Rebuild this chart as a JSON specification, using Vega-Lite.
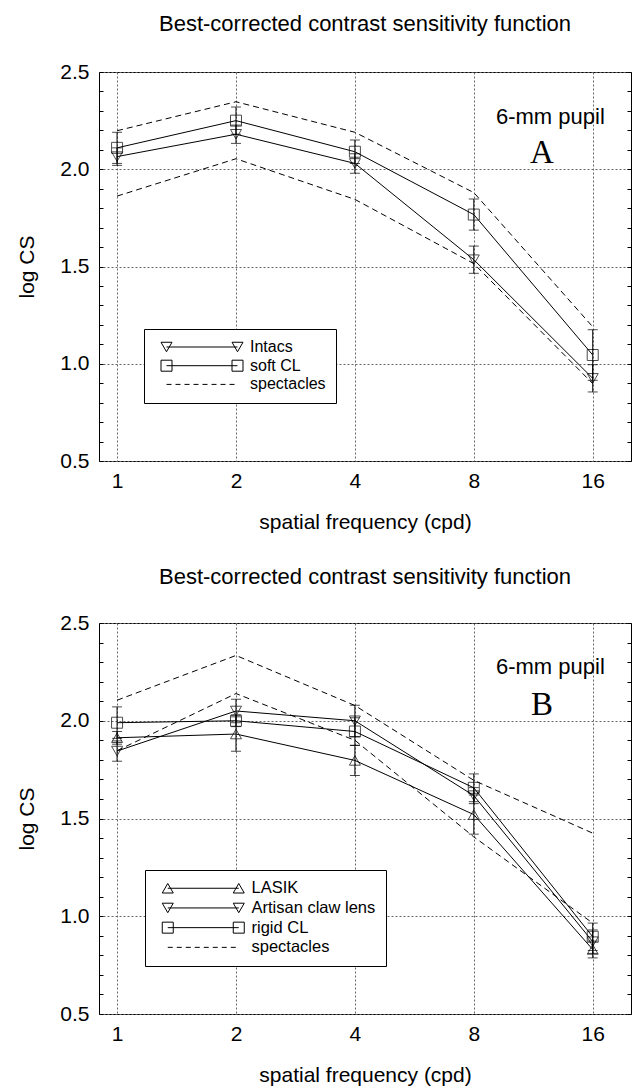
{
  "$schema": "https://vega.github.io/schema/vega-lite/v6.json",
  "background": "white",
  "padding": {"left": 16, "top": 12, "right": 0, "bottom": 0},
  "spacing": 32,
  "config": {
    "font": "Liberation Sans",
    "view": {"stroke": "black", "strokeWidth": 1, "fill": "white"},
    "axis": {"labelFont": "Liberation Sans", "titleFont": "Liberation Sans", "labelColor": "black", "titleColor": "black", "titleFontWeight": "normal", "labelFontSize": 21, "titleFontSize": 21},
    "title": {"font": "Liberation Sans", "fontSize": 22, "fontWeight": "normal", "color": "black"}
  },
  "datasets": {
    "d": [
      {"p": "A", "s": "Intacs", "f": 1, "v": 2.065, "lo": 2.02, "hi": 2.11},
      {"p": "A", "s": "Intacs", "f": 2, "v": 2.18, "lo": 2.133, "hi": 2.227},
      {"p": "A", "s": "Intacs", "f": 4, "v": 2.03, "lo": 1.98, "hi": 2.08},
      {"p": "A", "s": "Intacs", "f": 8, "v": 1.535, "lo": 1.465, "hi": 1.605},
      {"p": "A", "s": "Intacs", "f": 16, "v": 0.925, "lo": 0.855, "hi": 0.995},
      {"p": "A", "s": "soft CL", "f": 1, "v": 2.11, "lo": 2.03, "hi": 2.19},
      {"p": "A", "s": "soft CL", "f": 2, "v": 2.25, "lo": 2.18, "hi": 2.32},
      {"p": "A", "s": "soft CL", "f": 4, "v": 2.09, "lo": 2.03, "hi": 2.15},
      {"p": "A", "s": "soft CL", "f": 8, "v": 1.767, "lo": 1.687, "hi": 1.847},
      {"p": "A", "s": "soft CL", "f": 16, "v": 1.045, "lo": 0.915, "hi": 1.175},
      {"p": "A", "s": "spectacles", "b": "upper", "f": 1, "v": 2.198},
      {"p": "A", "s": "spectacles", "b": "upper", "f": 2, "v": 2.347},
      {"p": "A", "s": "spectacles", "b": "upper", "f": 4, "v": 2.19},
      {"p": "A", "s": "spectacles", "b": "upper", "f": 8, "v": 1.88},
      {"p": "A", "s": "spectacles", "b": "upper", "f": 16, "v": 1.19},
      {"p": "A", "s": "spectacles", "b": "lower", "f": 1, "v": 1.862},
      {"p": "A", "s": "spectacles", "b": "lower", "f": 2, "v": 2.054},
      {"p": "A", "s": "spectacles", "b": "lower", "f": 4, "v": 1.845},
      {"p": "A", "s": "spectacles", "b": "lower", "f": 8, "v": 1.515},
      {"p": "A", "s": "spectacles", "b": "lower", "f": 16, "v": 0.898},
      {"p": "B", "s": "LASIK", "f": 1, "v": 1.913, "lo": 1.88, "hi": 1.945},
      {"p": "B", "s": "LASIK", "f": 2, "v": 1.932, "lo": 1.844, "hi": 2.02},
      {"p": "B", "s": "LASIK", "f": 4, "v": 1.797, "lo": 1.72, "hi": 1.874},
      {"p": "B", "s": "LASIK", "f": 8, "v": 1.52, "lo": 1.42, "hi": 1.62},
      {"p": "B", "s": "LASIK", "f": 16, "v": 0.83, "lo": 0.787, "hi": 0.873},
      {"p": "B", "s": "Artisan claw lens", "f": 1, "v": 1.845, "lo": 1.793, "hi": 1.897},
      {"p": "B", "s": "Artisan claw lens", "f": 2, "v": 2.05, "lo": 1.99, "hi": 2.11},
      {"p": "B", "s": "Artisan claw lens", "f": 4, "v": 2.0, "lo": 1.92, "hi": 2.079},
      {"p": "B", "s": "Artisan claw lens", "f": 8, "v": 1.617, "lo": 1.576, "hi": 1.658},
      {"p": "B", "s": "Artisan claw lens", "f": 16, "v": 0.87, "lo": 0.81, "hi": 0.93},
      {"p": "B", "s": "rigid CL", "f": 1, "v": 1.99, "lo": 1.91, "hi": 2.071},
      {"p": "B", "s": "rigid CL", "f": 2, "v": 2.0, "lo": 1.97, "hi": 2.03},
      {"p": "B", "s": "rigid CL", "f": 4, "v": 1.945, "lo": 1.875, "hi": 2.015},
      {"p": "B", "s": "rigid CL", "f": 8, "v": 1.657, "lo": 1.586, "hi": 1.728},
      {"p": "B", "s": "rigid CL", "f": 16, "v": 0.895, "lo": 0.825, "hi": 0.965},
      {"p": "B", "s": "spectacles", "b": "upper", "f": 1, "v": 2.105},
      {"p": "B", "s": "spectacles", "b": "upper", "f": 2, "v": 2.334},
      {"p": "B", "s": "spectacles", "b": "upper", "f": 4, "v": 2.078},
      {"p": "B", "s": "spectacles", "b": "upper", "f": 8, "v": 1.695},
      {"p": "B", "s": "spectacles", "b": "upper", "f": 16, "v": 1.425},
      {"p": "B", "s": "spectacles", "b": "lower", "f": 1, "v": 1.847},
      {"p": "B", "s": "spectacles", "b": "lower", "f": 2, "v": 2.139},
      {"p": "B", "s": "spectacles", "b": "lower", "f": 4, "v": 1.9},
      {"p": "B", "s": "spectacles", "b": "lower", "f": 8, "v": 1.406},
      {"p": "B", "s": "spectacles", "b": "lower", "f": 16, "v": 0.965}
    ]
  },
  "resolve": {"scale": {"shape": "independent"}},
  "vconcat": [
    {
      "width": 532,
      "height": 389,
      "title": {"text": "Best-corrected contrast sensitivity function", "anchor": "middle", "offset": 25},
      "resolve": {"axis": {"x": "independent", "y": "independent"}},
      "layer": [
        {
          "data": {"name": "d"},
          "transform": [{"filter": "datum.p === 'A' && datum.s === 'spectacles'"}],
          "mark": {"type": "line", "color": "black", "strokeWidth": 1, "strokeDash": [6, 4]},
          "encoding": {
            "x": {"field": "f", "type": "quantitative", "scale": {"type": "log", "base": 2, "domain": [0.9, 20], "nice": false},
              "axis": {"values": [1, 2, 4, 8, 16], "format": "d", "ticks": false, "domain": false, "labelPadding": 9, "title": "spatial frequency (cpd)", "titlePadding": 20, "grid": true, "gridColor": "#666", "gridDash": [2, 2], "gridWidth": 1, "labelFlush": false, "labelOverlap": false}},
            "y": {"field": "v", "type": "quantitative", "scale": {"domain": [0.5, 2.5], "zero": false, "nice": false},
              "axis": {"values": [0.5, 1, 1.5, 2, 2.5], "format": ".1f", "ticks": false, "domain": false, "labelPadding": 10, "title": "log CS", "titlePadding": 22, "grid": true, "gridColor": "#666", "gridDash": [2, 2], "gridWidth": 1, "labelFlush": false, "labelOverlap": false}},
            "detail": {"field": "b"}
          }
        },
        {
          "data": {"name": "d"},
          "transform": [{"filter": "datum.p === 'A' && datum.s !== 'spectacles'"}],
          "mark": {"type": "line", "color": "black", "strokeWidth": 1},
          "encoding": {
            "x": {"field": "f", "type": "quantitative", "axis": null},
            "y": {"field": "v", "type": "quantitative",
              "axis": {"orient": "left", "values": [0.5, 0.6, 0.7, 0.8, 0.9, 1.0, 1.1, 1.2, 1.3, 1.4, 1.5, 1.6, 1.7, 1.8, 1.9, 2.0, 2.1, 2.2, 2.3, 2.4, 2.5], "offset": -4, "tickSize": 4, "tickColor": "black", "labels": false, "domain": false, "grid": false, "title": null}},
            "detail": {"field": "s"}
          }
        },
        {
          "data": {"name": "d"},
          "transform": [{"filter": "datum.p === 'A' && datum.s !== 'spectacles'"}],
          "mark": {"type": "errorbar", "color": "black", "ticks": {"size": 10, "color": "black"}, "rule": {"color": "black", "strokeWidth": 1}},
          "encoding": {
            "x": {"field": "f", "type": "quantitative", "axis": null},
            "y": {"field": "lo", "type": "quantitative", "axis": null},
            "y2": {"field": "hi"}
          }
        },
        {
          "data": {"name": "d"},
          "transform": [{"filter": "datum.p === 'A' && datum.s === 'Intacs'"}],
          "mark": {"type": "point", "shape": "triangle-down", "size": 121, "color": "black", "strokeWidth": 1, "filled": false},
          "encoding": {
            "x": {"field": "f", "type": "quantitative", "axis": null},
            "y": {"field": "v", "type": "quantitative",
              "axis": {"orient": "right", "values": [0.5, 0.6, 0.7, 0.8, 0.9, 1.0, 1.1, 1.2, 1.3, 1.4, 1.5, 1.6, 1.7, 1.8, 1.9, 2.0, 2.1, 2.2, 2.3, 2.4, 2.5], "offset": -4, "tickSize": 4, "tickColor": "black", "labels": false, "domain": false, "grid": false, "title": null}}
          }
        },
        {
          "data": {"name": "d"},
          "transform": [{"filter": "datum.p === 'A' && datum.s === 'soft CL'"}],
          "mark": {"type": "point", "shape": "square", "size": 121, "color": "black", "strokeWidth": 1, "filled": false},
          "encoding": {
            "x": {"field": "f", "type": "quantitative", "axis": null},
            "y": {"field": "v", "type": "quantitative", "axis": null}
          }
        },
        {
          "data": {"values": [{"label": "6-mm pupil"}]},
          "mark": {"type": "text", "font": "Liberation Sans", "fontSize": 22, "color": "black", "align": "center", "baseline": "middle"},
          "encoding": {
            "x": {"datum": 12.5, "type": "quantitative", "axis": null},
            "y": {"datum": 2.27, "type": "quantitative", "axis": null},
            "text": {"field": "label"}
          }
        },
        {
          "data": {"values": [{"label": "A"}]},
          "mark": {"type": "text", "font": "Liberation Serif", "fontSize": 33, "color": "black", "align": "center", "baseline": "middle"},
          "encoding": {
            "x": {"datum": 11.9, "type": "quantitative", "axis": null},
            "y": {"datum": 2.083, "type": "quantitative", "axis": null},
            "text": {"field": "label"}
          }
        },
        {
          "data": {"name": "d"},
          "transform": [{"filter": "false"}],
          "mark": {"type": "point", "color": "black", "strokeWidth": 1, "size": 100},
          "encoding": {
            "shape": {"field": "s", "type": "nominal",
              "scale": {"domain": ["Intacs", "soft CL", "spectacles"],
                "range": ["M-7.1,0H7.1M-8.2,-0.95H-6L-7.1,0.95ZM6,-0.95H8.2L7.1,0.95Z", "M-7.1,0H7.1M-8.2,-1.1H-6V1.1H-8.2ZM6,-1.1H8.2V1.1H6Z", "M-7.1,0H-6.1M-5.3,0H-4.3M-3.5,0H-2.5M-1.7,0H-0.7M0.1,0H1.1M1.9,0H2.9M3.7,0H4.7M5.5,0H6.5"]},
              "legend": {"title": null, "orient": "none", "legendX": 45, "legendY": 257, "padding": 10, "strokeColor": "black", "fillColor": "white", "symbolSize": 100, "symbolOffset": 40, "labelOffset": 40, "rowPadding": 2.7, "labelFontSize": 16, "labelFont": "Liberation Sans", "labelColor": "black", "symbolStrokeColor": "black", "symbolStrokeWidth": 1, "symbolFillColor": "transparent", "symbolOpacity": 1}}
          }
        }
      ]
    },
    {
      "width": 532,
      "height": 391,
      "title": {"text": "Best-corrected contrast sensitivity function", "anchor": "middle", "offset": 23},
      "resolve": {"axis": {"x": "independent", "y": "independent"}},
      "layer": [
        {
          "data": {"name": "d"},
          "transform": [{"filter": "datum.p === 'B' && datum.s === 'spectacles'"}],
          "mark": {"type": "line", "color": "black", "strokeWidth": 1, "strokeDash": [6, 4]},
          "encoding": {
            "x": {"field": "f", "type": "quantitative", "scale": {"type": "log", "base": 2, "domain": [0.9, 20], "nice": false},
              "axis": {"values": [1, 2, 4, 8, 16], "format": "d", "ticks": false, "domain": false, "labelPadding": 9, "title": "spatial frequency (cpd)", "titlePadding": 20, "grid": true, "gridColor": "#666", "gridDash": [2, 2], "gridWidth": 1, "labelFlush": false, "labelOverlap": false}},
            "y": {"field": "v", "type": "quantitative", "scale": {"domain": [0.5, 2.5], "zero": false, "nice": false},
              "axis": {"values": [0.5, 1, 1.5, 2, 2.5], "format": ".1f", "ticks": false, "domain": false, "labelPadding": 10, "title": "log CS", "titlePadding": 22, "grid": true, "gridColor": "#666", "gridDash": [2, 2], "gridWidth": 1, "labelFlush": false, "labelOverlap": false}},
            "detail": {"field": "b"}
          }
        },
        {
          "data": {"name": "d"},
          "transform": [{"filter": "datum.p === 'B' && datum.s !== 'spectacles'"}],
          "mark": {"type": "line", "color": "black", "strokeWidth": 1},
          "encoding": {
            "x": {"field": "f", "type": "quantitative", "axis": null},
            "y": {"field": "v", "type": "quantitative",
              "axis": {"orient": "left", "values": [0.5, 0.6, 0.7, 0.8, 0.9, 1.0, 1.1, 1.2, 1.3, 1.4, 1.5, 1.6, 1.7, 1.8, 1.9, 2.0, 2.1, 2.2, 2.3, 2.4, 2.5], "offset": -4, "tickSize": 4, "tickColor": "black", "labels": false, "domain": false, "grid": false, "title": null}},
            "detail": {"field": "s"}
          }
        },
        {
          "data": {"name": "d"},
          "transform": [{"filter": "datum.p === 'B' && datum.s !== 'spectacles'"}],
          "mark": {"type": "errorbar", "color": "black", "ticks": {"size": 10, "color": "black"}, "rule": {"color": "black", "strokeWidth": 1}},
          "encoding": {
            "x": {"field": "f", "type": "quantitative", "axis": null},
            "y": {"field": "lo", "type": "quantitative", "axis": null},
            "y2": {"field": "hi"}
          }
        },
        {
          "data": {"name": "d"},
          "transform": [{"filter": "datum.p === 'B' && datum.s === 'Artisan claw lens'"}],
          "mark": {"type": "point", "shape": "triangle-down", "size": 121, "color": "black", "strokeWidth": 1, "filled": false},
          "encoding": {
            "x": {"field": "f", "type": "quantitative", "axis": null},
            "y": {"field": "v", "type": "quantitative",
              "axis": {"orient": "right", "values": [0.5, 0.6, 0.7, 0.8, 0.9, 1.0, 1.1, 1.2, 1.3, 1.4, 1.5, 1.6, 1.7, 1.8, 1.9, 2.0, 2.1, 2.2, 2.3, 2.4, 2.5], "offset": -4, "tickSize": 4, "tickColor": "black", "labels": false, "domain": false, "grid": false, "title": null}}
          }
        },
        {
          "data": {"name": "d"},
          "transform": [{"filter": "datum.p === 'B' && datum.s === 'LASIK'"}],
          "mark": {"type": "point", "shape": "triangle-up", "size": 121, "color": "black", "strokeWidth": 1, "filled": false},
          "encoding": {
            "x": {"field": "f", "type": "quantitative", "axis": null},
            "y": {"field": "v", "type": "quantitative", "axis": null}
          }
        },
        {
          "data": {"name": "d"},
          "transform": [{"filter": "datum.p === 'B' && datum.s === 'rigid CL'"}],
          "mark": {"type": "point", "shape": "square", "size": 121, "color": "black", "strokeWidth": 1, "filled": false},
          "encoding": {
            "x": {"field": "f", "type": "quantitative", "axis": null},
            "y": {"field": "v", "type": "quantitative", "axis": null}
          }
        },
        {
          "data": {"values": [{"label": "6-mm pupil"}]},
          "mark": {"type": "text", "font": "Liberation Sans", "fontSize": 22, "color": "black", "align": "center", "baseline": "middle"},
          "encoding": {
            "x": {"datum": 12.5, "type": "quantitative", "axis": null},
            "y": {"datum": 2.276, "type": "quantitative", "axis": null},
            "text": {"field": "label"}
          }
        },
        {
          "data": {"values": [{"label": "B"}]},
          "mark": {"type": "text", "font": "Liberation Serif", "fontSize": 33, "color": "black", "align": "center", "baseline": "middle"},
          "encoding": {
            "x": {"datum": 11.9, "type": "quantitative", "axis": null},
            "y": {"datum": 2.082, "type": "quantitative", "axis": null},
            "text": {"field": "label"}
          }
        },
        {
          "data": {"name": "d"},
          "transform": [{"filter": "false"}],
          "mark": {"type": "point", "color": "black", "strokeWidth": 1, "size": 100},
          "encoding": {
            "shape": {"field": "s", "type": "nominal",
              "scale": {"domain": ["LASIK", "Artisan claw lens", "rigid CL", "spectacles"],
                "range": ["M-7.1,0H7.1M-8.2,0.95H-6L-7.1,-0.95ZM6,0.95H8.2L7.1,-0.95Z", "M-7.1,0H7.1M-8.2,-0.95H-6L-7.1,0.95ZM6,-0.95H8.2L7.1,0.95Z", "M-7.1,0H7.1M-8.2,-1.1H-6V1.1H-8.2ZM6,-1.1H8.2V1.1H6Z", "M-7.1,0H-6.1M-5.3,0H-4.3M-3.5,0H-2.5M-1.7,0H-0.7M0.1,0H1.1M1.9,0H2.9M3.7,0H4.7M5.5,0H6.5"]},
              "legend": {"title": null, "orient": "none", "legendX": 46, "legendY": 247, "padding": 10, "strokeColor": "black", "fillColor": "white", "symbolSize": 100, "symbolOffset": 40, "labelOffset": 40, "rowPadding": 2.7, "labelFontSize": 16.5, "labelFont": "Liberation Sans", "labelColor": "black", "symbolStrokeColor": "black", "symbolStrokeWidth": 1, "symbolFillColor": "transparent", "symbolOpacity": 1}}
          }
        }
      ]
    }
  ]
}
